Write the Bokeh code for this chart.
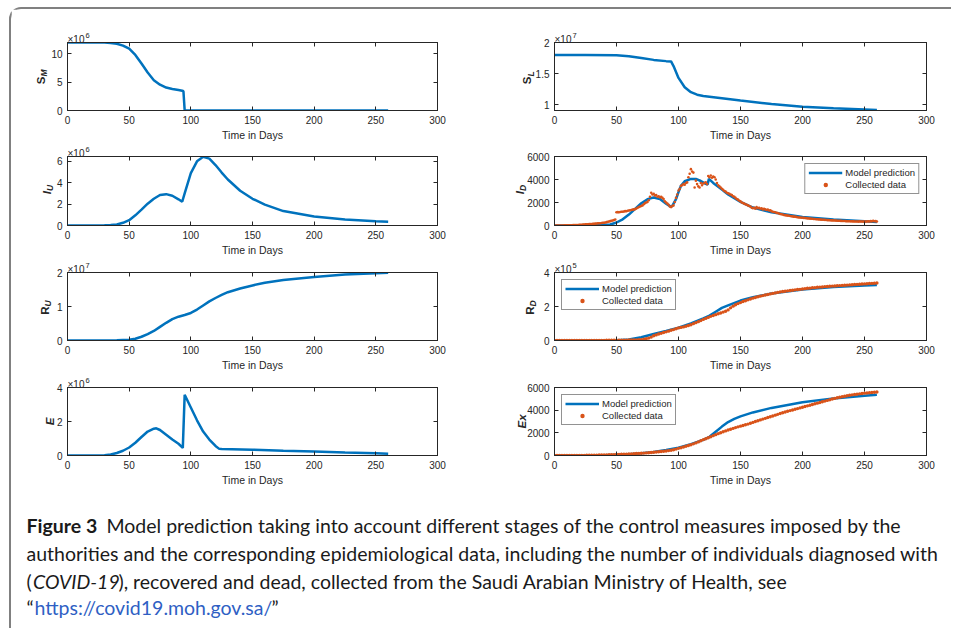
import math
from bokeh.plotting import figure
from bokeh.models import Range1d, LinearAxis, FixedTicker, Label, CustomJSTickFormatter
from bokeh.layouts import row, column
from bokeh.embed import file_html
from bokeh.resources import INLINE

FONT = "Liberation Sans"
CAP_FONT = "Lato"
INK = "#262626"
BLUE = "#0072BD"
ORANGE = "#D95319"
LINK = "#2f5fc4"

# ---------------- data ----------------
X_TICKS = [0, 50, 100, 150, 200, 250, 300]

# S_M (x10^6)
sm_t = [0, 10, 20, 30, 35, 40, 45, 50, 55, 60, 65, 70, 75, 80, 85, 90, 93, 94, 95, 100, 150, 200, 260]
sm_v = [12.0, 12.0, 12.0, 11.98, 11.93, 11.78, 11.45, 10.9, 9.8, 8.3, 6.7, 5.35, 4.55, 4.05, 3.8, 3.62, 3.5, 3.4, 0.02, 0, 0, 0, 0]

# S_L (x10^7)
sl_t = [0, 25, 50, 60, 70, 80, 90, 94, 96, 100, 105, 110, 115, 120, 130, 140, 150, 175, 200, 225, 250, 260]
sl_v = [1.80, 1.80, 1.795, 1.78, 1.75, 1.72, 1.70, 1.695, 1.62, 1.43, 1.28, 1.2, 1.16, 1.14, 1.115, 1.09, 1.065, 1.01, 0.965, 0.94, 0.92, 0.912]

# I_U (x10^6)
iu_t = [0, 20, 30, 35, 40, 45, 50, 55, 60, 65, 70, 75, 80, 85, 90, 93, 95, 100, 105, 110, 115, 120, 125, 130, 140, 150, 160, 175, 200, 225, 250, 260]
iu_v = [0, 0.01, 0.03, 0.05, 0.1, 0.25, 0.5, 0.95, 1.48, 2.04, 2.5, 2.85, 2.93, 2.78, 2.45, 2.22, 3.0, 4.9, 6.0, 6.42, 6.25, 5.65, 4.95, 4.3, 3.25, 2.5, 1.95, 1.35, 0.85, 0.56, 0.4, 0.35]

# I_D model
id_t = [0, 10, 20, 30, 40, 45, 50, 55, 60, 65, 70, 75, 80, 85, 90, 94, 95, 98, 100, 102, 105, 110, 114, 118, 122, 123.5, 124.5, 128, 135, 140, 150, 160, 175, 200, 225, 250, 260]
id_v = [0, 2, 8, 20, 45, 90, 260, 540, 950, 1450, 1930, 2290, 2430, 2300, 1900, 1620, 1700, 2300, 2900, 3450, 3850, 4050, 4050, 3870, 3620, 3560, 4060, 3700, 3120, 2700, 2060, 1560, 1150, 750, 520, 370, 310]

# I_D collected (daily, day 0..260)
id_days = list(range(0, 261))
id_data = [
    0, 1, 1, 2, 3, 5, 4, 6, 8, 10,
    12, 15, 18, 20, 25, 30, 32, 38, 45, 50,
    55, 62, 70, 80, 85, 95, 100, 110, 118, 125,
    135, 140, 150, 160, 175, 185, 190, 200, 215, 230,
    245, 260, 290, 320, 350, 380, 410, 440, 480, 520,
    1150, 1160, 1150, 1180, 1200, 1190, 1220, 1250, 1240, 1280,
    1300, 1320, 1350, 1380, 1400, 1420, 1480, 1550, 1600, 1650,
    1700, 1750, 1850, 1950, 2000, 2050, 2200, 2500, 2850, 2700,
    2750, 2600, 2650, 2500, 2550, 2450, 2500, 2400, 2300, 2100,
    2000, 1900, 1800, 1650, 1600, 1700, 1750, 2050, 2400, 2700,
    3050, 3200, 3450, 3500, 3600, 3550, 3700, 3750, 4200, 4500,
    4900, 4700, 4600, 3300, 3900, 3600, 3400, 3300, 3700, 3500,
    3650, 3700, 3750, 3600, 4300, 4200, 4350, 4150, 4250, 4200,
    4000, 3700, 3500, 3400, 3300, 3200, 3100, 3000, 2950, 2850,
    2800, 2750, 2700, 2650, 2550, 2500, 2400, 2300, 2250, 2150,
    2100, 2000, 1950, 1900, 1850, 1800, 1750, 1700, 1650, 1550,
    1500, 1550, 1450, 1600, 1500, 1550, 1450, 1500, 1400, 1450,
    1400, 1350, 1380, 1300, 1320, 1250, 1200, 1180, 1150, 1100,
    1080, 1050, 1000, 980, 960, 920, 900, 880, 860, 850,
    830, 800, 790, 770, 760, 750, 720, 700, 690, 680,
    670, 660, 650, 640, 620, 610, 600, 590, 580, 570,
    560, 550, 540, 530, 520, 510, 500, 495, 490, 480,
    470, 465, 460, 450, 445, 440, 430, 425, 420, 415,
    410, 400, 395, 390, 385, 380, 375, 370, 365, 360,
    360, 355, 350, 345, 350, 340, 355, 345, 350, 340,
    345, 340, 350, 360, 345, 380, 360, 400, 370, 380,
    350,
]

# R_U (x10^7)
ru_t = [0, 40, 50, 55, 60, 65, 70, 75, 80, 85, 90, 95, 100, 105, 110, 115, 120, 125, 130, 140, 150, 160, 175, 200, 225, 250, 260]
ru_v = [0, 0.005, 0.02, 0.05, 0.11, 0.19, 0.28, 0.4, 0.52, 0.63, 0.7, 0.75, 0.81, 0.91, 1.03, 1.15, 1.25, 1.34, 1.42, 1.53, 1.62, 1.7, 1.78, 1.87, 1.94, 1.98, 1.99]

# R_D model (x10^5)
rd_t = [0, 50, 60, 70, 80, 90, 100, 110, 120, 125, 130, 135, 140, 150, 160, 175, 200, 225, 250, 260]
rd_v = [0, 0.01, 0.06, 0.19, 0.38, 0.56, 0.75, 1.0, 1.3, 1.46, 1.69, 1.92, 2.07, 2.35, 2.54, 2.76, 3.0, 3.14, 3.23, 3.27]

# R_D collected (every 2 days, x10^5)
rd_days = list(range(0, 261, 2))
rd_data = [
    0, 0, 0, 0, 0.0001, 0.0002, 0.0003, 0.0005, 0.0008, 0.001, 0.0015,
    0.002, 0.0025, 0.003, 0.004, 0.005, 0.006, 0.007, 0.008, 0.009, 0.01,
    0.011, 0.012, 0.013, 0.014, 0.015, 0.016, 0.018, 0.02, 0.022, 0.025,
    0.028, 0.032, 0.036, 0.04, 0.05, 0.07, 0.1, 0.14, 0.2, 0.28,
    0.33, 0.38, 0.42, 0.47, 0.51, 0.55, 0.6, 0.64, 0.69, 0.74,
    0.77, 0.8, 0.84, 0.88, 0.93, 0.99, 1.05, 1.11, 1.17, 1.24,
    1.3, 1.36, 1.42, 1.47, 1.52, 1.57, 1.62, 1.67, 1.72, 1.8,
    1.92, 2.02, 2.1, 2.17, 2.23, 2.29, 2.34, 2.39, 2.44, 2.49,
    2.53, 2.57, 2.61, 2.64, 2.68, 2.71, 2.74, 2.77, 2.8, 2.83,
    2.86, 2.88, 2.9, 2.92, 2.94, 2.96, 2.98, 3.0, 3.01, 3.03,
    3.05, 3.07, 3.08, 3.1, 3.11, 3.13, 3.14, 3.15, 3.17, 3.18,
    3.19, 3.2, 3.21, 3.22, 3.23, 3.24, 3.25, 3.26, 3.27, 3.28,
    3.29, 3.3, 3.31, 3.32, 3.33, 3.34, 3.35, 3.36, 3.37, 3.38,
]

# E (x10^6)
e_t = [0, 20, 30, 35, 40, 45, 50, 55, 60, 65, 70, 72, 75, 80, 85, 90, 93.5, 95, 100, 105, 110, 115, 120, 123, 125, 150, 175, 200, 225, 250, 260]
e_v = [0, 0.005, 0.02, 0.06, 0.15, 0.28, 0.47, 0.75, 1.09, 1.41, 1.58, 1.6, 1.5, 1.22, 0.94, 0.69, 0.45, 3.57, 2.82, 2.07, 1.41, 0.94, 0.56, 0.39, 0.38, 0.34, 0.28, 0.23, 0.17, 0.13, 0.11]

# Ex model
ex_t = [0, 30, 40, 50, 60, 70, 80, 90, 100, 110, 120, 125, 130, 135, 140, 145, 150, 160, 175, 200, 225, 250, 260]
ex_v = [0, 5, 20, 56, 113, 200, 310, 480, 680, 1000, 1380, 1650, 2100, 2550, 2950, 3230, 3450, 3800, 4200, 4700, 5040, 5270, 5350]

# Ex collected (every 2 days)
ex_days = list(range(0, 261, 2))
ex_data = [
    0, 0, 0, 0, 1, 2, 3, 4, 6, 8, 10,
    12, 15, 18, 22, 26, 30, 35, 40, 45, 52,
    58, 65, 72, 80, 88, 96, 105, 115, 125, 135,
    145, 157, 170, 183, 197, 212, 228, 245, 265, 285,
    310, 330, 352, 376, 402, 432, 468, 510, 565, 630,
    690, 750, 815, 880, 950, 1030, 1110, 1200, 1300, 1400,
    1480, 1570, 1660, 1750, 1840, 1930, 2010, 2090, 2170, 2250,
    2320, 2390, 2460, 2530, 2590, 2650, 2710, 2770, 2840, 2920,
    3000, 3070, 3140, 3210, 3280, 3350, 3420, 3490, 3560, 3630,
    3700, 3770, 3840, 3900, 3960, 4020, 4080, 4140, 4200, 4260,
    4320, 4380, 4440, 4500, 4560, 4620, 4680, 4740, 4800, 4860,
    4920, 4980, 5040, 5090, 5140, 5190, 5230, 5270, 5310, 5350,
    5380, 5410, 5440, 5470, 5500, 5520, 5540, 5560, 5580, 5600,
]

# ---------------- layout geometry ----------------
COL_W = 470
COL_BORDERS = [(56, 44), (73, 25)]
ROW_H = [134, 115, 115, 115]
ROW_TOP = [33, 13, 14, 14]
FRAME_H = 71


def style_axis(ax, hidden=False):
    ax.axis_line_color = INK
    ax.axis_line_width = 1
    ax.major_tick_line_color = INK
    ax.major_tick_in = 4
    ax.major_tick_out = 0
    ax.minor_tick_in = 0
    ax.minor_tick_out = 0
    ax.minor_tick_line_color = None
    ax.major_label_text_font = FONT
    ax.major_label_text_color = INK
    if hidden:
        ax.formatter = CustomJSTickFormatter(code="return '';")
        ax.major_label_text_font_size = "1px"
        ax.major_label_standoff = 0
    else:
        ax.major_label_text_font_size = "10px"
        ax.major_label_standoff = 5


def make_panel(col, r, y_range, y_ticks, y_fmt=None):
    bl, br = COL_BORDERS[col]
    h = ROW_H[r]
    bt = ROW_TOP[r]
    bb = h - bt - FRAME_H
    p = figure(width=COL_W, height=h, x_range=Range1d(0, 300), y_range=Range1d(*y_range),
               output_backend="svg", toolbar_location=None,
               min_border_left=bl, min_border_right=br, min_border_top=bt, min_border_bottom=bb,
               background_fill_color="white", border_fill_color="white",
               outline_line_color=INK, outline_line_width=1)
    p.grid.visible = False
    xt = FixedTicker(ticks=X_TICKS)
    yt = FixedTicker(ticks=y_ticks)
    xa = p.xaxis[0]
    xa.ticker = xt
    style_axis(xa)
    xa.axis_label = "Time in Days"
    xa.axis_label_text_font = FONT
    xa.axis_label_text_font_size = "10.5px"
    xa.axis_label_text_font_style = "normal"
    xa.axis_label_text_color = INK
    xa.axis_label_standoff = 2
    ya = p.yaxis[0]
    ya.ticker = yt
    style_axis(ya)
    if y_fmt is not None:
        ya.formatter = y_fmt
    top = LinearAxis(ticker=xt)
    style_axis(top, hidden=True)
    right = LinearAxis(ticker=yt)
    style_axis(right, hidden=True)
    p.add_layout(top, "above")
    p.add_layout(right, "right")
    return p


def exp_label(p, y_top, exp_text):
    # "x10^n" multiplier above the top-left corner of the axes
    p.add_layout(Label(x=0, y=y_top, text="×10", x_offset=0, y_offset=3,
                       text_font=FONT, text_font_size="10px", text_color=INK,
                       text_align="left", text_baseline="alphabetic"), "above")
    p.add_layout(Label(x=0, y=y_top, text=exp_text, x_offset=18, y_offset=7,
                       text_font=FONT, text_font_size="7.5px", text_color=INK,
                       text_align="left", text_baseline="alphabetic"), "left")


def y_label(p, y_mid, main, sub, off, main_style="bold"):
    p.add_layout(Label(x=0, y=y_mid, text=main, x_offset=off, angle=math.pi / 2,
                       text_align="right" if sub else "center", text_baseline="middle",
                       text_font=FONT, text_font_size="11.5px", text_font_style=main_style,
                       text_color=INK), "left")
    if sub:
        p.add_layout(Label(x=0, y=y_mid, text=sub, x_offset=off + 3.5, angle=math.pi / 2,
                           text_align="left", text_baseline="middle",
                           text_font=FONT, text_font_size="8.5px", text_font_style="bold italic",
                           text_color=INK), "left")


def style_legend(p, loc):
    lg = p.legend[0]
    lg.location = loc
    lg.margin = 7
    lg.padding = 3
    lg.spacing = 1
    lg.glyph_width = 34
    lg.glyph_height = 11
    lg.label_height = 11
    lg.label_standoff = 3
    lg.label_text_font = FONT
    lg.label_text_font_size = "9.5px"
    lg.label_text_color = INK
    lg.border_line_color = INK
    lg.border_line_width = 1
    lg.background_fill_color = "white"
    lg.background_fill_alpha = 1


LW = 2.5

# Row 1
p1 = make_panel(0, 0, (0, 12), [0, 5, 10])
p1.line(sm_t, sm_v, line_color=BLUE, line_width=LW)
exp_label(p1, 12, "6")
y_label(p1, 6, "S", "M", -27)

p2 = make_panel(1, 0, (0.905, 2.0), [1, 1.5, 2],
                y_fmt=CustomJSTickFormatter(code="return String(Math.round(tick*100)/100);"))
p2.line(sl_t, sl_v, line_color=BLUE, line_width=LW)
exp_label(p2, 2.0, "7")
y_label(p2, (0.905 + 2.0) / 2, "S", "L", -27.5)

# Row 2
p3 = make_panel(0, 1, (0, 6.45), [0, 2, 4, 6])
p3.line(iu_t, iu_v, line_color=BLUE, line_width=LW)
exp_label(p3, 6.45, "6")
y_label(p3, 6.45 / 2, "I", "U", -21, "bold italic")

p4 = make_panel(1, 1, (0, 6000), [0, 2000, 4000, 6000])
p4.line(id_t, id_v, line_color=BLUE, line_width=LW, legend_label="Model prediction")
p4.scatter(id_days, id_data, size=2.6, marker="circle", fill_color=ORANGE, line_color=None,
           legend_label="Collected data")
style_legend(p4, "top_right")
y_label(p4, 3000, "I", "D", -35, "bold italic")

# Row 3
p5 = make_panel(0, 2, (0, 2), [0, 1, 2])
p5.line(ru_t, ru_v, line_color=BLUE, line_width=LW)
exp_label(p5, 2, "7")
y_label(p5, 1, "R", "U", -23)

p6 = make_panel(1, 2, (0, 4), [0, 2, 4])
p6.line(rd_t, rd_v, line_color=BLUE, line_width=LW, legend_label="Model prediction")
p6.scatter(rd_days, rd_data, size=3.4, marker="circle", fill_color=ORANGE, line_color=None,
           legend_label="Collected data")
style_legend(p6, "top_left")
exp_label(p6, 4, "5")
y_label(p6, 2, "R", "D", -25)

# Row 4
p7 = make_panel(0, 3, (0, 4), [0, 2, 4])
p7.line(e_t, e_v, line_color=BLUE, line_width=LW)
exp_label(p7, 4, "6")
y_label(p7, 2, "E", None, -18, "bold italic")

p8 = make_panel(1, 3, (0, 6000), [0, 2000, 4000, 6000])
p8.line(ex_t, ex_v, line_color=BLUE, line_width=LW, legend_label="Model prediction")
p8.scatter(ex_days, ex_data, size=3.4, marker="circle", fill_color=ORANGE, line_color=None,
           legend_label="Collected data")
style_legend(p8, "top_left")
y_label(p8, 3000, "Ex", None, -33, "bold italic")

# ---------------- caption ----------------
CAP_W, CAP_H = 940, 140
cap = figure(width=CAP_W, height=CAP_H, x_range=Range1d(0, CAP_W), y_range=Range1d(CAP_H, 0),
             output_backend="svg", toolbar_location=None, min_border=0,
             x_axis_location=None, y_axis_location=None,
             background_fill_color="white", border_fill_color="white", outline_line_color=None)
cap.grid.visible = False

CAP_SIZE = "19.5px"
LINE_Y = [37, 65, 93, 119]


def cap_text(x, y, text, style="normal", color="#1a1a1a"):
    cap.add_layout(Label(x=x, y=y, text=text, text_font=CAP_FONT, text_font_size=CAP_SIZE,
                         text_font_style=style, text_color=color,
                         text_align="left", text_baseline="middle"))


cap_text(15, LINE_Y[0], "Figure 3", "bold")
cap_text(95, LINE_Y[0], "Model prediction taking into account different stages of the control measures imposed by the")
cap_text(15, LINE_Y[1], "authorities and the corresponding epidemiological data, including the number of individuals diagnosed with")
cap_text(15, LINE_Y[2], "(")
cap_text(21.5, LINE_Y[2], "COVID-19", "italic")
cap_text(107, LINE_Y[2], "), recovered and dead, collected from the Saudi Arabian Ministry of Health, see")
cap_text(15, LINE_Y[3], "\u201c")
cap_text(23, LINE_Y[3], "https://covid19.moh.gov.sa/", color=LINK)
cap_text(260, LINE_Y[3], "\u201d")

layout = column(
    row(p1, p2),
    row(p3, p4),
    row(p5, p6),
    row(p7, p8),
    cap,
    styles={"margin-left": "9px", "margin-top": "7px",
            "border-top": "2px solid #808080", "border-left": "2px solid #808080",
            "border-top-left-radius": "12px", "background-color": "white"},
)

open("out.html", "w").write(file_html(layout, INLINE))
